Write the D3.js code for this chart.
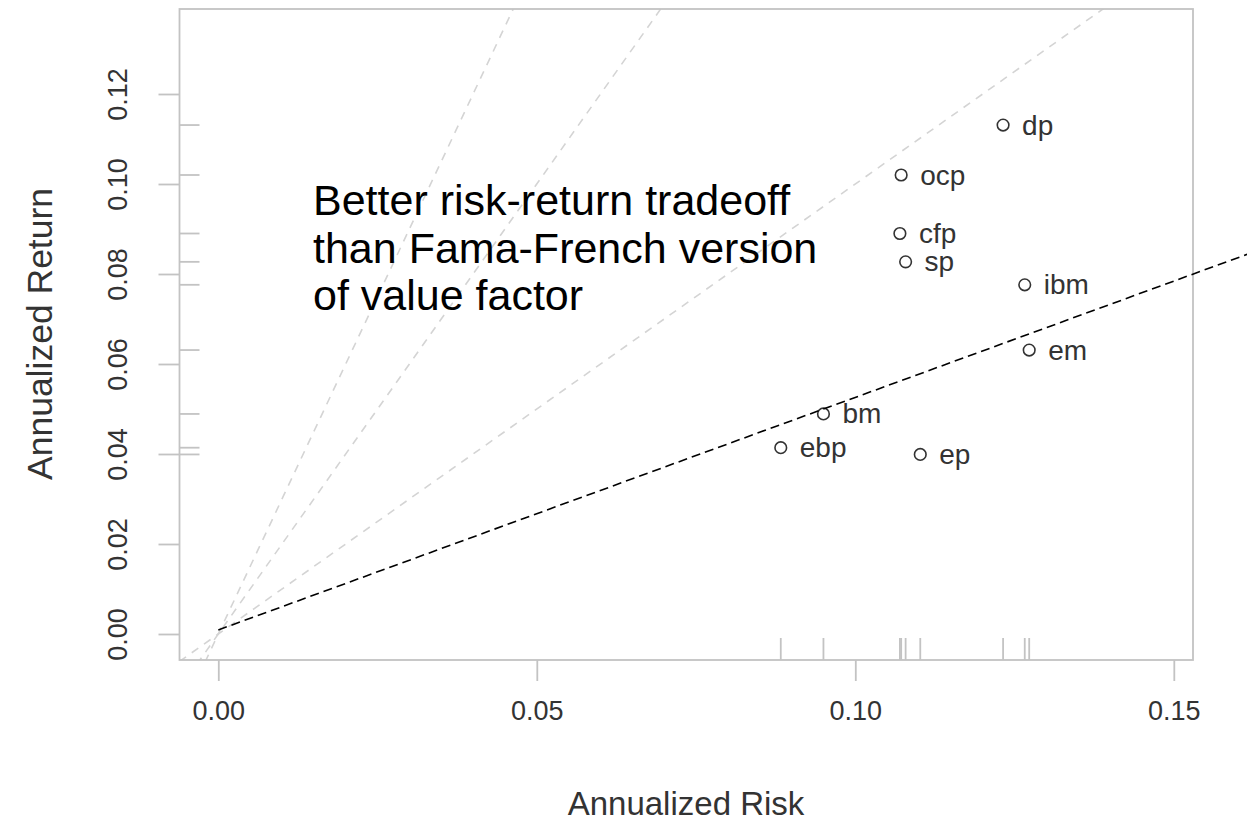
<!DOCTYPE html>
<html><head><meta charset="utf-8">
<script src="https://cdn.jsdelivr.net/npm/d3@7"></script>
<style>body{margin:0;background:#fff}</style>
</head><body><svg id="c" width="1247" height="823"></svg>
<script>
// ---- data ----
const names = ["dp","ocp","cfp","sp","ibm","em","bm","ebp","ep"];
const risk  = [0.1232,0.1072,0.1070,0.1079,0.1266,0.1273,0.0950,0.0883,0.1102];
const ret   = [0.1131,0.1020,0.0890,0.0827,0.0776,0.0631,0.0489,0.0414,0.0399];
const xTicks = [0, 0.05, 0.10, 0.15];
const xTickLabels = ["0.00","0.05","0.10","0.15"];
const yTicks = [0, 0.02, 0.04, 0.06, 0.08, 0.10, 0.12];
const yTickLabels = ["0.00","0.02","0.04","0.06","0.08","0.10","0.12"];
const sharpeLevels = [1, 2, 3];
const ffStart = [0, 0.0009];
const ffSlope = 0.5168;
const ffEndX = 0.1615;
const note = ["Better risk-return tradeoff","than Fama-French version","of value factor"];

// ---- layout ----
const svg = d3.select("#c");
const L = 179.5, R = 1193, T = 9, B = 660;
const x = d3.scaleLinear().domain([0, 0.15]).range([218.3, 1173.8]);
const y = d3.scaleLinear().domain([0, 0.12]).range([634, 94]);
const frameCol = "#c3c3c3";
const font = "Liberation Sans, Arial, Helvetica, sans-serif";

svg.append("defs").append("clipPath").attr("id","clip")
  .append("rect").attr("x",L).attr("y",T).attr("width",R-L).attr("height",B-T);

// sharpe lines (gray dashed, through origin)
const xmin = x.invert(L), xmax = x.invert(R);
svg.append("g").attr("clip-path","url(#clip)").selectAll("line").data(sharpeLevels).join("line")
  .attr("x1", x(xmin)).attr("y1", d => y(d*xmin))
  .attr("x2", x(xmax)).attr("y2", d => y(d*xmax))
  .attr("stroke","#d4d4d4").attr("stroke-width",1.6).attr("stroke-dasharray","8,7");

// frame
svg.append("rect").attr("x",L).attr("y",T).attr("width",R-L).attr("height",B-T)
  .attr("fill","none").attr("stroke",frameCol).attr("stroke-width",1.8);

// x axis
const xa = d3.axisBottom(x).tickValues(xTicks).tickSize(21).tickFormat((d,i)=>xTickLabels[i]).tickPadding(20);
const gx = svg.append("g").attr("transform",`translate(0,${B})`).call(xa);
gx.select(".domain").remove();
gx.selectAll(".tick line").attr("stroke",frameCol).attr("stroke-width",1.8);
gx.selectAll(".tick text").attr("font-family",font).attr("font-size",27).attr("fill","#333");

// y axis (labels rotated like R)
const ya = d3.axisLeft(y).tickValues(yTicks).tickSize(21).tickFormat((d,i)=>yTickLabels[i]);
const gy = svg.append("g").attr("transform",`translate(${L},0)`).call(ya);
gy.select(".domain").remove();
gy.selectAll(".tick line").attr("stroke",frameCol).attr("stroke-width",1.8);
gy.selectAll(".tick text").attr("font-family",font).attr("font-size",27).attr("fill","#333")
  .attr("x",null).attr("dy",null)
  .attr("text-anchor","middle").attr("dominant-baseline","central")
  .attr("transform","translate(-62,0) rotate(-90)");

// rugs
const pts = names.map((n,i)=>({n, r:risk[i], m:ret[i]}));
svg.append("g").selectAll("line").data(pts).join("line")
  .attr("x1",d=>x(d.r)).attr("x2",d=>x(d.r)).attr("y1",B).attr("y2",B-22)
  .attr("stroke",frameCol).attr("stroke-width",1.8);
svg.append("g").selectAll("line").data(pts).join("line")
  .attr("y1",d=>y(d.m)).attr("y2",d=>y(d.m)).attr("x1",L).attr("x2",L+20)
  .attr("stroke",frameCol).attr("stroke-width",1.8);

// points and labels
svg.append("g").selectAll("circle").data(pts).join("circle")
  .attr("cx",d=>x(d.r)).attr("cy",d=>y(d.m)).attr("r",5.8)
  .attr("fill","none").attr("stroke","#333").attr("stroke-width",1.6);
svg.append("g").selectAll("text").data(pts).join("text")
  .attr("x",d=>x(d.r)+19).attr("y",d=>y(d.m)).attr("dominant-baseline","central")
  .attr("font-family",font).attr("font-size",28).attr("fill","#333").text(d=>d.n);

// Fama-French line (black dashed, annotation extends past frame)
svg.append("line")
  .attr("x1",x(ffStart[0])).attr("y1",y(ffStart[1]))
  .attr("x2",x(ffEndX)).attr("y2",y(ffStart[1]+ffSlope*(ffEndX-ffStart[0])))
  .attr("stroke","#000").attr("stroke-width",1.6).attr("stroke-dasharray","9,5");

// annotation
svg.append("text").attr("font-family",font).attr("font-size",43).attr("fill","#000")
  .selectAll("tspan").data(note).join("tspan")
  .attr("x",313).attr("y",(d,i)=>215+i*47.5).text(d=>d);

// axis titles
svg.append("text").attr("x",686).attr("y",815).attr("text-anchor","middle")
  .attr("font-family",font).attr("font-size",33).attr("fill","#333").text("Annualized Risk");
svg.append("text").attr("transform","translate(52,334) rotate(-90)").attr("text-anchor","middle")
  .attr("font-family",font).attr("font-size",35.5).attr("fill","#333").text("Annualized Return");
</script></body></html>
